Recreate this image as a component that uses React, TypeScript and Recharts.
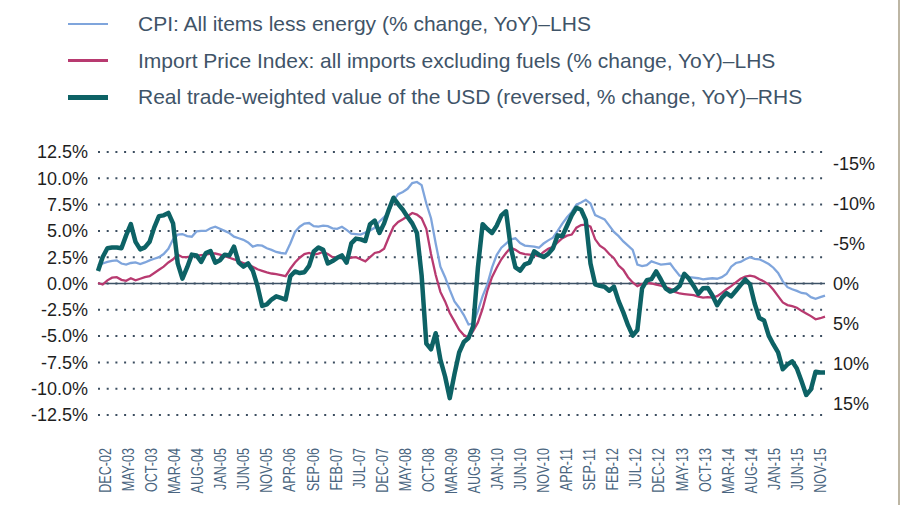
import { LineChart, Line, XAxis, YAxis, CartesianGrid, ReferenceLine } from 'recharts';

// monthly, DEC-02 .. NOV-15
const cpiCore = [
  1.7, 1.9, 2.05, 2.15, 2.2, 1.9, 1.8, 1.95, 2.0, 1.85,
  2.0, 2.2, 2.35, 2.5, 2.8, 3.3, 4.2, 4.65, 4.7, 4.5,
  4.45, 4.95, 5.0, 5.0, 5.25, 5.4, 5.2, 5.0, 4.8, 4.45,
  4.3, 4.15, 3.9, 3.5, 3.65, 3.6, 3.35, 3.2, 3.0, 2.9,
  2.85, 3.8, 4.9, 5.4, 5.7, 5.75, 5.45, 5.4, 5.5, 5.45,
  5.25, 5.2, 5.4, 5.1, 4.75, 4.7, 4.65, 4.85, 5.05, 5.3,
  5.9, 6.3, 6.8, 7.9, 8.5, 8.7, 9.0, 9.55, 9.65, 9.35,
  7.6, 6.2, 3.8, 1.6, 0.6, -0.6, -1.7, -2.3, -3.0, -3.9,
  -3.8, -2.6, -1.2, -0.1, 1.5, 2.7, 3.4, 3.8, 4.2, 4.3,
  3.85, 3.6, 3.55, 3.5, 3.4, 3.8, 4.1, 4.35, 5.0, 5.7,
  6.3, 6.8, 7.5, 7.7, 7.95, 7.6, 6.5, 6.3, 6.1, 5.5,
  4.9, 4.5, 4.0, 3.6, 3.2, 1.8, 1.65, 1.75, 2.1, 1.95,
  1.8, 1.85, 1.9, 1.3, 0.75, 0.7, 0.6, 0.55, 0.5, 0.4,
  0.45, 0.5, 0.45, 0.6, 0.9, 1.6, 1.95, 2.05, 2.3, 2.5,
  2.35, 2.3, 2.1, 1.85, 1.5, 1.0, 0.2, -0.35, -0.55, -0.7,
  -0.9, -0.95, -1.3, -1.45, -1.3, -1.15,
];

const importPrices = [
  0.05, -0.1, 0.3, 0.55, 0.6, 0.35, 0.25, 0.5, 0.3, 0.45,
  0.6, 0.7, 1.0, 1.3, 1.6, 2.0, 2.3, 2.75, 2.5, 2.5,
  2.6, 2.65, 2.7, 2.75, 2.85, 2.85, 2.75, 2.6, 2.45, 2.3,
  2.1, 1.95, 1.8, 1.6, 1.35, 1.2, 1.05, 0.95, 0.9, 0.8,
  0.7, 1.4, 2.0, 2.45, 2.8, 2.9, 2.75, 2.85, 3.0, 2.8,
  2.5, 2.45, 2.4, 2.35, 2.45, 2.5, 2.3, 2.1, 2.5, 2.9,
  3.0, 3.3, 4.4, 5.4, 5.85, 6.1, 6.4, 6.7, 6.55, 6.2,
  5.2, 2.8, 0.8, -0.8, -1.7, -2.8, -3.6, -4.4, -4.9, -5.15,
  -4.5, -3.7, -2.4, -0.7, 0.6, 1.5, 2.3, 2.9, 3.4, 3.2,
  2.9, 2.8, 2.75, 2.7, 2.6, 3.0, 3.3, 3.5, 3.9, 4.3,
  4.55, 4.65, 5.3, 5.55, 5.6, 5.4, 4.2, 3.6, 3.3, 2.8,
  2.4, 1.7, 1.3, 0.6, 0.1, -0.25, -0.05, 0.05, 0.0, -0.1,
  -0.2, -0.35, -0.5, -0.8, -0.95, -1.0, -1.05, -1.1, -1.25, -1.35,
  -1.3, -1.35, -1.2, -0.9, -0.55, -0.25, 0.1, 0.45, 0.65, 0.75,
  0.65, 0.4, 0.2, -0.1, -0.6, -1.2, -1.8, -2.05, -2.15, -2.3,
  -2.6, -2.85, -3.1, -3.4, -3.3, -3.15,
];

// right axis, reversed
const usdReal = [
  -1.55, -3.3, -4.4, -4.5, -4.5, -4.4, -6.0, -7.4, -5.2, -4.25,
  -4.5, -5.2, -7.0, -8.4, -8.5, -8.8, -7.5, -2.5, -0.6, -2.0,
  -3.6, -3.5, -2.7, -3.8, -4.05, -2.6, -2.9, -3.6, -3.5, -4.6,
  -2.6, -2.1, -2.5, -1.6, 0.3, 2.8, 2.6, 2.0, 1.6, 1.8,
  2.0, -0.9, -1.5, -1.3, -1.4, -2.2, -4.0, -4.5, -4.2, -2.5,
  -2.8, -3.2, -3.5, -2.6, -5.0, -5.6, -5.5, -5.3, -7.4, -7.85,
  -6.3, -7.5, -9.2, -10.7, -9.9, -9.2, -8.3, -7.5, -6.3, -1.0,
  7.5, 8.2, 6.2, 9.5, 11.6, 14.3, 11.3, 8.6, 7.3, 6.8,
  5.3, -2.0, -7.4, -6.8, -6.3, -7.2, -8.5, -9.0, -4.5, -2.0,
  -1.6, -2.4, -2.6, -4.0, -3.6, -3.3, -3.7, -4.4, -6.0, -5.9,
  -7.2, -8.5, -9.45, -9.2, -7.9, -2.5, 0.1, 0.3, 0.4, 0.9,
  0.4, 2.2, 3.6, 5.2, 6.5, 5.8, 0.6, -0.4, -0.55, -1.5,
  -0.5, 0.6, 1.0, 0.8, 0.3, -1.2, -0.6, 0.3, 1.3, 0.6,
  0.55, 1.5, 2.7, 1.8, 1.2, 1.6, 0.9, 0.2, -0.5, 0.1,
  2.5, 4.3, 4.6, 6.5, 7.6, 8.6, 10.7, 10.1, 9.7, 10.6,
  12.2, 13.9, 13.2, 11.0, 11.1, 11.1,
];

const tickLabels = [
  'DEC-02', 'MAY-03', 'OCT-03', 'MAR-04', 'AUG-04', 'JAN-05', 'JUN-05', 'NOV-05',
  'APR-06', 'SEP-06', 'FEB-07', 'JUL-07', 'DEC-07', 'MAY-08', 'OCT-08', 'MAR-09',
  'AUG-09', 'JAN-10', 'JUN-10', 'NOV-10', 'APR-11', 'SEP-11', 'FEB-12', 'JUL-12',
  'DEC-12', 'MAY-13', 'OCT-13', 'MAR-14', 'AUG-14', 'JAN-15', 'JUN-15', 'NOV-15',
];

const leftTicks = [-12.5, -10, -7.5, -5, -2.5, 0, 2.5, 5, 7.5, 10, 12.5];
const rightTicks = [-15, -10, -5, 0, 5, 10, 15];

const legendItems = [
  { label: 'CPI: All items less energy (% change, YoY)\u2013LHS', color: '#7fa5dc', width: 2.5 },
  { label: 'Import Price Index: all imports excluding fuels (% change, YoY)\u2013LHS', color: '#b83a70', width: 3 },
  { label: 'Real trade-weighted value of the USD (reversed, % change, YoY)\u2013RHS', color: '#0d6265', width: 5 },
];

const FONT = '"Liberation Sans", Arial, Helvetica, sans-serif';

const data = cpiCore.map((v, i) => ({
  i,
  cpi: v,
  imp: importPrices[i],
  usd: usdReal[i],
}));

const xTicks = tickLabels.map((_, k) => k * 5);

function MonthTick({ x, y, payload }: any) {
  // labels sit on a slightly narrower span than the data points
  const lx = 105 + (x - 98) * (715 / 727);
  return (
    <text
      transform={`translate(${lx},${y}) rotate(-90) scale(0.74,1)`}
      textAnchor="end"
      dy="0.35em"
      fontSize={17}
      fill="#4a6580"
      fontFamily={FONT}
    >
      {tickLabels[payload.value / 5]}
    </text>
  );
}

export default function App() {
  return (
    <div style={{ position: 'absolute', left: 0, top: 0, width: 910, height: 505, background: '#fff', fontFamily: FONT }}>
      {legendItems.map((item, k) => {
        const cy = 24 + k * 36.7;
        return (
          <div key={item.label}>
            <div
              style={{
                position: 'absolute',
                left: 68,
                top: cy - item.width / 2,
                width: 40,
                height: item.width,
                background: item.color,
              }}
            />
            <div
              style={{
                position: 'absolute',
                left: 138,
                top: cy - 12,
                fontSize: 21,
                lineHeight: '24px',
                color: '#3f5468',
                whiteSpace: 'nowrap',
              }}
            >
              {item.label}
            </div>
          </div>
        );
      })}
      <div style={{ position: 'absolute', left: 898, top: 0, width: 2, height: 505, background: '#bdb6a4' }} />
      <div style={{ position: 'absolute', left: 0, top: 0 }}>
        <LineChart width={910} height={505} data={data} margin={{ top: 152, right: 0, bottom: 0, left: 0 }}>
          <CartesianGrid
            yAxisId="left"
            vertical={false}
            stroke="#3b4d5f"
            strokeWidth={2}
            strokeDasharray="2 6.7"
          />
          <XAxis
            dataKey="i"
            type="number"
            domain={[0, 155]}
            ticks={xTicks}
            interval={0}
            axisLine={false}
            tickLine={false}
            tickSize={0}
            tickMargin={33}
            height={90}
            tick={<MonthTick />}
          />
          <YAxis
            yAxisId="left"
            domain={[-12.5, 12.5]}
            ticks={leftTicks}
            width={98}
            axisLine={false}
            tickLine={false}
            tickSize={0}
            tickMargin={10}
            tickFormatter={(v: number) => `${v.toFixed(1)}%`}
            tick={{ fontSize: 18, fill: '#1e1e1e', fontFamily: FONT }}
          />
          <YAxis
            yAxisId="right"
            orientation="right"
            reversed
            domain={[-16.4, 16.4]}
            ticks={rightTicks}
            width={85}
            axisLine={false}
            tickLine={false}
            tickSize={0}
            tickMargin={8}
            tickFormatter={(v: number) => `${v}%`}
            tick={{ fontSize: 18, fill: '#1e1e1e', fontFamily: FONT, textAnchor: 'start' }}
          />
          <ReferenceLine yAxisId="left" y={0} stroke="#3d5266" strokeWidth={1.5} />
          <Line
            yAxisId="left"
            type="linear"
            dataKey="cpi"
            stroke="#7fa5dc"
            strokeWidth={2.3}
            dot={false}
            isAnimationActive={false}
          />
          <Line
            yAxisId="left"
            type="linear"
            dataKey="imp"
            stroke="#b83a70"
            strokeWidth={2.3}
            dot={false}
            isAnimationActive={false}
          />
          <Line
            yAxisId="right"
            type="linear"
            dataKey="usd"
            stroke="#0d6265"
            strokeWidth={4.5}
            strokeLinejoin="round"
            dot={false}
            isAnimationActive={false}
          />
        </LineChart>
      </div>
    </div>
  );
}
